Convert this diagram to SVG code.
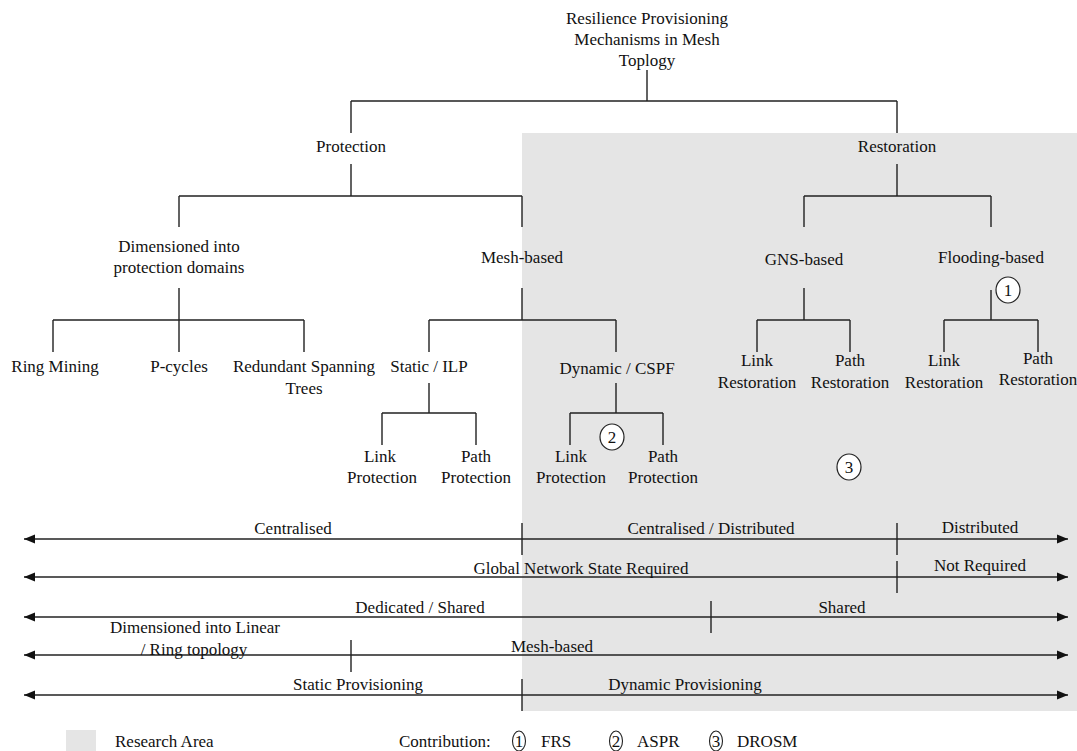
<svg xmlns="http://www.w3.org/2000/svg" width="1077" height="751" viewBox="0 0 1077 751">
<style>
text{font-family:"Liberation Serif","Times New Roman",serif;font-size:17px;fill:#111;text-anchor:middle}
.l{stroke:#222;stroke-width:1.4;fill:none}
.a{stroke:#222;stroke-width:1.4;fill:none;marker-start:url(#ah);marker-end:url(#ah)}
.c{stroke:#222;stroke-width:1.2;fill:#fff}
.lc{stroke:#222;stroke-width:1.1;fill:none}
.st{text-anchor:start}
</style>
<defs>
<marker id="ah" markerUnits="userSpaceOnUse" markerWidth="11" markerHeight="10" refX="11" refY="5" orient="auto-start-reverse">
<path d="M0,0.5 L11,5 L0,9.5 z" fill="#111"/>
</marker>
</defs>
<rect id="research-area" x="522" y="133" width="555" height="578" fill="#e5e5e5"/>
<g id="connectors">
<path class="l" d="M647,70V101M351,101H897M351,101V133M897,101V133"/>
<path class="l" d="M351,164V196M179,196H522M179,196V227M522,196V227"/>
<path class="l" d="M897,164V196M804,196H991M804,196V227M991,196V227"/>
<path class="l" d="M179,288V320M53,320H304M53,320V352M179,320V352M304,320V352"/>
<path class="l" d="M522,288V320M429,320H616M429,320V352M616,320V352"/>
<path class="l" d="M804,288V320M757,320H850M757,320V352M850,320V352"/>
<path class="l" d="M991,290V320M944,320H1038M944,320V352M1038,320V352"/>
<path class="l" d="M429,383V413M382,413H476M382,413V445M476,413V445"/>
<path class="l" d="M616,383V413M570,413H663M570,413V445M663,413V445"/>
</g>
<g id="root"><text x="647" y="24">Resilience Provisioning</text><text x="647" y="45">Mechanisms in Mesh</text><text x="647" y="66">Toplogy</text></g>
<g id="protection"><text x="351" y="152">Protection</text></g>
<g id="restoration"><text x="897" y="152">Restoration</text></g>
<g id="dimensioned"><text x="179" y="252">Dimensioned into</text><text x="179" y="273">protection domains</text></g>
<g id="mesh-based"><text x="522" y="263">Mesh-based</text></g>
<g id="gns-based"><text x="804" y="265">GNS-based</text></g>
<g id="flooding-based"><text x="991" y="263">Flooding-based</text></g>
<g id="ring-mining"><text x="55" y="372">Ring Mining</text></g>
<g id="p-cycles"><text x="179" y="372">P-cycles</text></g>
<g id="rst"><text x="304" y="372">Redundant Spanning</text><text x="304" y="394">Trees</text></g>
<g id="static-ilp"><text x="429" y="372">Static / ILP</text></g>
<g id="dynamic-cspf"><text x="617" y="374">Dynamic / CSPF</text></g>
<g id="s-link"><text x="380" y="462">Link</text><text x="382" y="483">Protection</text></g>
<g id="s-path"><text x="476" y="462">Path</text><text x="476" y="483">Protection</text></g>
<g id="d-link"><text x="571" y="462">Link</text><text x="571" y="483">Protection</text></g>
<g id="d-path"><text x="663" y="462">Path</text><text x="663" y="483">Protection</text></g>
<g id="g-link"><text x="757" y="366">Link</text><text x="757" y="388">Restoration</text></g>
<g id="g-path"><text x="850" y="366">Path</text><text x="850" y="388">Restoration</text></g>
<g id="f-link"><text x="944" y="366">Link</text><text x="944" y="388">Restoration</text></g>
<g id="f-path"><text x="1038" y="364">Path</text><text x="1038" y="385">Restoration</text></g>
<g id="c1"><ellipse class="c" cx="1008" cy="290" rx="12" ry="13"/><text x="1008" y="296">1</text></g>
<g id="c2"><ellipse class="c" cx="612" cy="437" rx="12" ry="13"/><text x="612" y="443">2</text></g>
<g id="c3"><ellipse class="c" cx="849" cy="467" rx="12" ry="13"/><text x="849" y="473">3</text></g>
<g id="scales">
<path class="a" d="M24,539H1068"/>
<path class="a" d="M24,577H1068"/>
<path class="a" d="M24,617H1068"/>
<path class="a" d="M24,655H1068"/>
<path class="a" d="M24,695H1068"/>
<path class="l" d="M522,523V555M897,523V555M897,561V593M711,601V633M351,640V672M522,679V711"/>
</g>
<g id="scale-labels">
<text x="293" y="534">Centralised</text>
<text x="711" y="534">Centralised / Distributed</text>
<text x="980" y="533">Distributed</text>
<text x="581" y="574">Global Network State Required</text>
<text x="980" y="571">Not Required</text>
<text x="420" y="613">Dedicated / Shared</text>
<text x="842" y="613">Shared</text>
<text x="195" y="633">Dimensioned into Linear</text>
<text x="194" y="655">/ Ring topology</text>
<text x="552" y="652">Mesh-based</text>
<text x="358" y="690">Static Provisioning</text>
<text x="685" y="690">Dynamic Provisioning</text>
</g>
<g id="legend">
<rect x="66" y="730" width="30" height="21" fill="#e5e5e5"/>
<text class="st" x="115" y="747">Research Area</text>
<text class="st" x="399" y="747">Contribution:</text>
<ellipse class="lc" cx="519" cy="741" rx="6.5" ry="10"/><text x="519" y="747">1</text>
<text class="st" x="541" y="747">FRS</text>
<ellipse class="lc" cx="616" cy="741" rx="6.5" ry="10"/><text x="616" y="747">2</text>
<text class="st" x="637" y="747">ASPR</text>
<ellipse class="lc" cx="716" cy="741" rx="6.5" ry="10"/><text x="716" y="747">3</text>
<text class="st" x="737" y="747">DROSM</text>
</g>
</svg>
